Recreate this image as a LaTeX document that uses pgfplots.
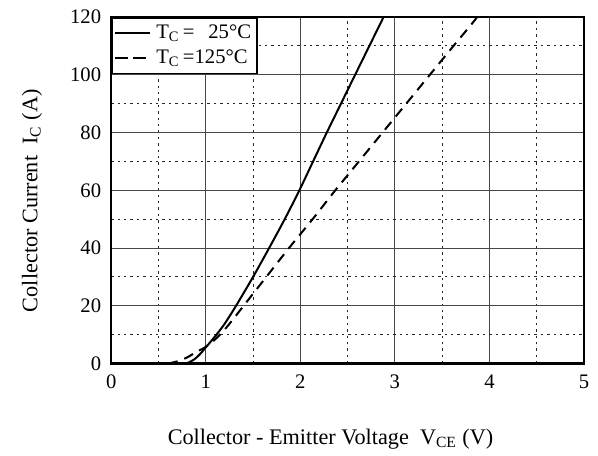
\documentclass[border=0pt]{standalone}
\usepackage{fontspec}
\setmainfont{Liberation Serif}
\usepackage{pgfplots}
\pgfplotsset{compat=1.18}
\begin{document}
\fontsize{10}{12}\selectfont
\begin{tikzpicture}
\begin{axis}[
  at={(0pt,0pt)}, anchor=south west,
  width=236pt, height=173pt, scale only axis,
  xmin=0, xmax=5, ymin=0, ymax=120,
  xtick={0,1,2,3,4,5}, ytick={0,20,40,60,80,100,120},
  minor xtick={0.5,1.5,2.5,3.5,4.5}, minor ytick={10,30,50,70,90,110},
  major tick length=0pt, minor tick length=0pt,
  grid=both,
  major grid style={black!72, line width=0.55pt},
  minor grid style={black!85, dash pattern=on 1.2pt off 2pt, line width=0.5pt},
  axis line style={line width=1.3pt},
  tick label style={font=\fontsize{10.3}{12}\selectfont},
  /pgf/number format/assume math mode=true,
  xticklabel style={yshift=-2pt},
  yticklabel style={xshift=-1.5pt},
  xlabel={Collector - Emitter Voltage\ \ V\textsubscript{CE} (V)},
  ylabel={Collector Current\ \ I\textsubscript{C} (A)},
  xlabel style={at={(axis description cs:0.464,0)}, anchor=center, yshift=-37.5pt},
  ylabel style={at={(axis description cs:0,0.47)}, anchor=center, yshift=39.5pt},
  label style={font=\fontsize{11.1}{13}\selectfont},
  legend style={at={(0,1)}, anchor=north west, draw=black, line width=0.9pt, fill=white,
    font=\fontsize{10.3}{12}\selectfont, inner xsep=1pt, inner ysep=1.5pt, row sep=0pt,
    column sep=1pt, cells={anchor=west}},
  legend cell align=left,
  clip=true,
]
\addplot[black, line width=1pt, smooth] coordinates {
(0.77,0) (0.82,0.4) (0.88,1.5) (0.94,3.3) (1.0,5.6) (1.06,7.9) (1.12,10.3) (1.2,13.8) (1.32,20) (1.5,30)
(1.67,40) (1.835,50) (1.99,60) (2.135,70) (2.28,80) (2.43,90) (2.58,100) (2.73,110) (2.88,120) (2.91,123)};
\addlegendentry{T\textsubscript{C}\,=\hphantom{1}\,25°C}
\addplot[black, line width=1pt, dash pattern=on 5pt off 3.5pt, smooth,
  legend image code/.code={\draw[black, line width=1pt, dash pattern=on 6.5pt off 2.5pt] (0pt,0pt) -- (15.5pt,0pt);}] coordinates {
(0.6,0) (0.7,0.8) (0.8,2.1) (0.9,4) (1.0,5.8) (1.1,8.4) (1.2,11.8) (1.3,15.8) (1.4,20) (1.64,30) (1.88,40)
(2.13,50) (2.37,60) (2.62,70) (2.87,80) (3.12,90) (3.37,100) (3.62,110) (3.87,120) (3.9,123)};
\addlegendentry{T\textsubscript{C}\,=125°C}
\end{axis}
\path[use as bounding box] (-55.5pt,-45pt) rectangle (243pt,181.5pt);
\end{tikzpicture}
\end{document}
